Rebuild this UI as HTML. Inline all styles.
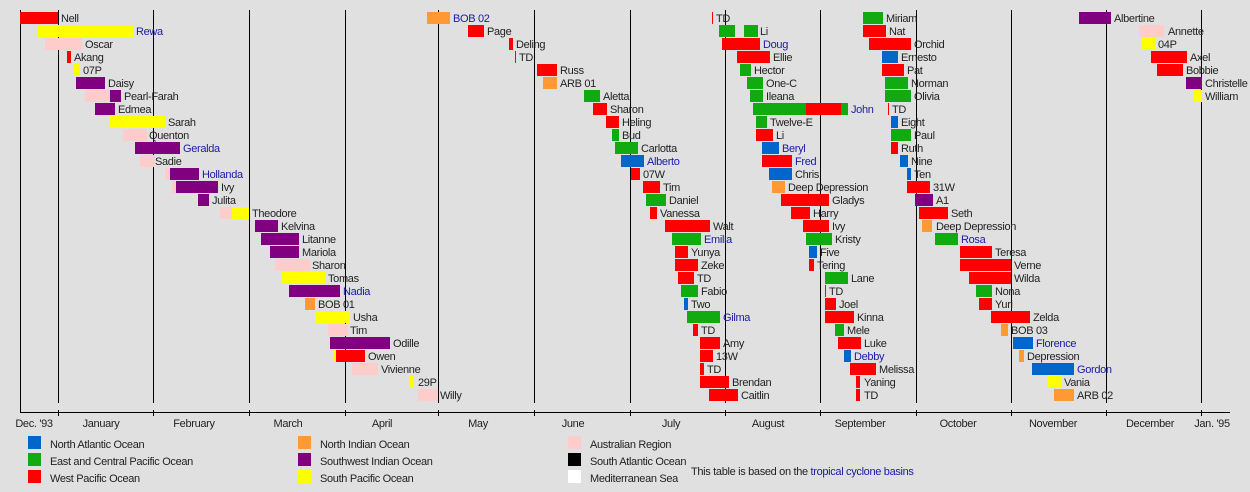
<!DOCTYPE html>
<html><head><meta charset="utf-8"><style>
body{margin:0;background:#e0e0e0}
svg{display:block;font-family:"Liberation Sans",sans-serif;font-size:11px;letter-spacing:-0.33px}
text{fill:#222}
.b{fill:#1a1aa6}
.R{fill:#ff0000}.G{fill:#11aa11}.B{fill:#0066cc}.O{fill:#ff9933}.P{fill:#800080}.Y{fill:#ffff00}.K{fill:#ffcccc}
</style></head><body>
<svg width="1250" height="492" viewBox="0 0 1250 492">
<rect width="1250" height="492" fill="#e0e0e0"/>
<g stroke="#000" stroke-width="1">
<line x1="20.5" y1="10" x2="20.5" y2="412"/>
<line x1="58.5" y1="10" x2="58.5" y2="403"/><line x1="153.5" y1="10" x2="153.5" y2="403"/><line x1="249.5" y1="10" x2="249.5" y2="403"/><line x1="345.5" y1="10" x2="345.5" y2="403"/><line x1="438.5" y1="10" x2="438.5" y2="403"/><line x1="534.5" y1="10" x2="534.5" y2="403"/><line x1="630.5" y1="10" x2="630.5" y2="403"/><line x1="725.5" y1="10" x2="725.5" y2="403"/><line x1="820.5" y1="10" x2="820.5" y2="403"/><line x1="916.5" y1="10" x2="916.5" y2="403"/><line x1="1011.5" y1="10" x2="1011.5" y2="403"/><line x1="1106.5" y1="10" x2="1106.5" y2="403"/><line x1="1201.5" y1="10" x2="1201.5" y2="403"/>
<line x1="20" y1="412.5" x2="1230" y2="412.5"/>
<line x1="58.5" y1="410" x2="58.5" y2="416"/><line x1="153.5" y1="410" x2="153.5" y2="416"/><line x1="249.5" y1="410" x2="249.5" y2="416"/><line x1="345.5" y1="410" x2="345.5" y2="416"/><line x1="438.5" y1="410" x2="438.5" y2="416"/><line x1="534.5" y1="410" x2="534.5" y2="416"/><line x1="630.5" y1="410" x2="630.5" y2="416"/><line x1="725.5" y1="410" x2="725.5" y2="416"/><line x1="820.5" y1="410" x2="820.5" y2="416"/><line x1="916.5" y1="410" x2="916.5" y2="416"/><line x1="1011.5" y1="410" x2="1011.5" y2="416"/><line x1="1106.5" y1="410" x2="1106.5" y2="416"/><line x1="1201.5" y1="410" x2="1201.5" y2="416"/>
</g>
<g text-anchor="middle">
<text x="34" y="427">Dec. '93</text><text x="101" y="427">January</text><text x="194" y="427">February</text><text x="288" y="427">March</text><text x="382" y="427">April</text><text x="478" y="427">May</text><text x="573" y="427">June</text><text x="671" y="427">July</text><text x="768" y="427">August</text><text x="860" y="427">September</text><text x="958" y="427">October</text><text x="1053" y="427">November</text><text x="1150" y="427">December</text><text x="1212" y="427">Jan. '95</text>
</g>

<rect class="R" x="20" y="12" width="38" height="12"/><text x="61" y="22">Nell</text>
<rect class="Y" x="38" y="25" width="95" height="12"/><text class="b" x="136" y="35">Rewa</text>
<rect class="K" x="45" y="38" width="37" height="12"/><text x="85" y="48">Oscar</text>
<rect class="R" x="67" y="51" width="4" height="12"/><text x="74" y="61">Akang</text>
<rect class="Y" x="73" y="64" width="7" height="12"/><text x="83" y="74">07P</text>
<rect class="P" x="76" y="77" width="29" height="12"/><text x="108" y="87">Daisy</text>
<rect class="K" x="85" y="90" width="25" height="12"/><rect class="P" x="110" y="90" width="11" height="12"/><text x="124" y="100">Pearl-Farah</text>
<rect class="P" x="95" y="103" width="20" height="12"/><text x="118" y="113">Edmea</text>
<rect class="Y" x="110" y="116" width="55" height="12"/><text x="168" y="126">Sarah</text>
<rect class="K" x="123" y="129" width="24" height="12"/><text x="149" y="139">Quenton</text>
<rect class="P" x="135" y="142" width="45" height="12"/><text class="b" x="183" y="152">Geralda</text>
<rect class="K" x="140" y="155" width="15" height="12"/><text x="155" y="165">Sadie</text>
<rect class="K" x="165" y="168" width="5" height="12"/><rect class="P" x="170" y="168" width="29" height="12"/><text class="b" x="202" y="178">Hollanda</text>
<rect class="K" x="172" y="181" width="4" height="12"/><rect class="P" x="176" y="181" width="42" height="12"/><text x="221" y="191">Ivy</text>
<rect class="P" x="198" y="194" width="11" height="12"/><text x="212" y="204">Julita</text>
<rect class="K" x="220" y="207" width="12" height="12"/><rect class="Y" x="232" y="207" width="17" height="12"/><text x="252" y="217">Theodore</text>
<rect class="P" x="255" y="220" width="23" height="12"/><text x="281" y="230">Kelvina</text>
<rect class="P" x="261" y="233" width="38" height="12"/><text x="302" y="243">Litanne</text>
<rect class="P" x="270" y="246" width="29" height="12"/><text x="302" y="256">Mariola</text>
<rect class="K" x="275" y="259" width="35" height="12"/><text x="312" y="269">Sharon</text>
<rect class="Y" x="282" y="272" width="43" height="12"/><text x="328" y="282">Tomas</text>
<rect class="P" x="289" y="285" width="51" height="12"/><text class="b" x="343" y="295">Nadia</text>
<rect class="O" x="305" y="298" width="10" height="12"/><text x="318" y="308">BOB 01</text>
<rect class="Y" x="316" y="311" width="34" height="12"/><text x="353" y="321">Usha</text>
<rect class="K" x="328" y="324" width="20" height="12"/><text x="350" y="334">Tim</text>
<rect class="P" x="330" y="337" width="60" height="12"/><text x="393" y="347">Odille</text>
<rect class="Y" x="333" y="350" width="3" height="12"/><rect class="R" x="336" y="350" width="29" height="12"/><text x="368" y="360">Owen</text>
<rect class="K" x="352" y="363" width="26" height="12"/><text x="381" y="373">Vivienne</text>
<rect class="Y" x="410" y="376" width="3" height="12"/><text x="418" y="386">29P</text>
<rect class="K" x="418" y="389" width="20" height="12"/><text x="440" y="399">Willy</text>

<rect class="O" x="427" y="12" width="23" height="12"/><text class="b" x="453" y="22">BOB 02</text>
<rect class="R" x="468" y="25" width="16" height="12"/><text x="487" y="35">Page</text>
<rect class="R" x="509" y="38" width="4" height="12"/><text x="516" y="48">Deling</text>
<rect class="R" x="515" y="51" width="1" height="12"/><text x="519" y="61">TD</text>
<rect class="R" x="537" y="64" width="20" height="12"/><text x="560" y="74">Russ</text>
<rect class="O" x="543" y="77" width="14" height="12"/><text x="560" y="87">ARB 01</text>
<rect class="G" x="584" y="90" width="16" height="12"/><text x="603" y="100">Aletta</text>
<rect class="R" x="593" y="103" width="14" height="12"/><text x="610" y="113">Sharon</text>
<rect class="R" x="606" y="116" width="13" height="12"/><text x="622" y="126">Heling</text>
<rect class="G" x="612" y="129" width="7" height="12"/><text x="622" y="139">Bud</text>
<rect class="G" x="615" y="142" width="23" height="12"/><text x="641" y="152">Carlotta</text>
<rect class="B" x="621" y="155" width="23" height="12"/><text class="b" x="647" y="165">Alberto</text>
<rect class="R" x="631" y="168" width="9" height="12"/><text x="643" y="178">07W</text>
<rect class="R" x="643" y="181" width="17" height="12"/><text x="663" y="191">Tim</text>
<rect class="G" x="646" y="194" width="20" height="12"/><text x="669" y="204">Daniel</text>
<rect class="R" x="650" y="207" width="7" height="12"/><text x="660" y="217">Vanessa</text>
<rect class="R" x="665" y="220" width="45" height="12"/><text x="713" y="230">Walt</text>
<rect class="G" x="672" y="233" width="29" height="12"/><text class="b" x="704" y="243">Emilia</text>
<rect class="R" x="675" y="246" width="13" height="12"/><text x="691" y="256">Yunya</text>
<rect class="R" x="675" y="259" width="23" height="12"/><text x="701" y="269">Zeke</text>
<rect class="R" x="678" y="272" width="16" height="12"/><text x="697" y="282">TD</text>
<rect class="G" x="681" y="285" width="17" height="12"/><text x="701" y="295">Fabio</text>
<rect class="B" x="684" y="298" width="4" height="12"/><text x="691" y="308">Two</text>
<rect class="G" x="687" y="311" width="33" height="12"/><text class="b" x="723" y="321">Gilma</text>
<rect class="R" x="693" y="324" width="5" height="12"/><text x="701" y="334">TD</text>
<rect class="R" x="700" y="337" width="20" height="12"/><text x="723" y="347">Amy</text>
<rect class="R" x="700" y="350" width="13" height="12"/><text x="716" y="360">13W</text>
<rect class="R" x="700" y="363" width="4" height="12"/><text x="707" y="373">TD</text>
<rect class="R" x="700" y="376" width="29" height="12"/><text x="732" y="386">Brendan</text>
<rect class="R" x="709" y="389" width="29" height="12"/><text x="741" y="399">Caitlin</text>

<rect class="R" x="712" y="12" width="1" height="12"/><text x="716" y="22">TD</text>
<rect class="G" x="719" y="25" width="16" height="12"/><rect class="G" x="744" y="25" width="14" height="12"/><text x="760" y="35">Li</text>
<rect class="R" x="722" y="38" width="38" height="12"/><text class="b" x="763" y="48">Doug</text>
<rect class="R" x="737" y="51" width="33" height="12"/><text x="773" y="61">Ellie</text>
<rect class="G" x="740" y="64" width="11" height="12"/><text x="754" y="74">Hector</text>
<rect class="G" x="747" y="77" width="16" height="12"/><text x="766" y="87">One-C</text>
<rect class="G" x="750" y="90" width="13" height="12"/><text x="766" y="100">Ileana</text>
<rect class="G" x="753" y="103" width="53" height="12"/><rect class="R" x="806" y="103" width="35" height="12"/><rect class="G" x="841" y="103" width="7" height="12"/><text class="b" x="851" y="113">John</text>
<rect class="G" x="756" y="116" width="11" height="12"/><text x="770" y="126">Twelve-E</text>
<rect class="R" x="756" y="129" width="17" height="12"/><text x="776" y="139">Li</text>
<rect class="B" x="762" y="142" width="17" height="12"/><text class="b" x="782" y="152">Beryl</text>
<rect class="R" x="762" y="155" width="30" height="12"/><text class="b" x="795" y="165">Fred</text>
<rect class="B" x="769" y="168" width="23" height="12"/><text x="795" y="178">Chris</text>
<rect class="O" x="772" y="181" width="13" height="12"/><text x="788" y="191">Deep Depression</text>
<rect class="R" x="781" y="194" width="48" height="12"/><text x="832" y="204">Gladys</text>
<rect class="R" x="791" y="207" width="19" height="12"/><text x="813" y="217">Harry</text>
<rect class="R" x="803" y="220" width="26" height="12"/><text x="832" y="230">Ivy</text>
<rect class="G" x="806" y="233" width="26" height="12"/><text x="835" y="243">Kristy</text>
<rect class="B" x="809" y="246" width="8" height="12"/><text x="820" y="256">Five</text>
<rect class="R" x="809" y="259" width="5" height="12"/><text x="817" y="269">Tering</text>
<rect class="G" x="825" y="272" width="23" height="12"/><text x="851" y="282">Lane</text>
<rect class="R" x="825" y="285" width="1" height="12"/><text x="829" y="295">TD</text>
<rect class="R" x="825" y="298" width="11" height="12"/><text x="839" y="308">Joel</text>
<rect class="R" x="825" y="311" width="29" height="12"/><text x="857" y="321">Kinna</text>
<rect class="G" x="835" y="324" width="9" height="12"/><text x="847" y="334">Mele</text>
<rect class="R" x="838" y="337" width="23" height="12"/><text x="864" y="347">Luke</text>
<rect class="B" x="844" y="350" width="7" height="12"/><text class="b" x="854" y="360">Debby</text>
<rect class="R" x="850" y="363" width="26" height="12"/><text x="879" y="373">Melissa</text>
<rect class="R" x="856" y="376" width="4" height="12"/><text x="864" y="386">Yaning</text>
<rect class="R" x="856" y="389" width="4" height="12"/><text x="864" y="399">TD</text>

<rect class="G" x="863" y="12" width="20" height="12"/><text x="886" y="22">Miriam</text>
<rect class="R" x="863" y="25" width="23" height="12"/><text x="889" y="35">Nat</text>
<rect class="R" x="869" y="38" width="42" height="12"/><text x="914" y="48">Orchid</text>
<rect class="B" x="882" y="51" width="16" height="12"/><text x="901" y="61">Ernesto</text>
<rect class="R" x="882" y="64" width="22" height="12"/><text x="907" y="74">Pat</text>
<rect class="G" x="885" y="77" width="23" height="12"/><text x="911" y="87">Norman</text>
<rect class="G" x="885" y="90" width="26" height="12"/><text x="914" y="100">Olivia</text>
<rect class="R" x="888" y="103" width="1" height="12"/><text x="892" y="113">TD</text>
<rect class="B" x="891" y="116" width="7" height="12"/><text x="901" y="126">Eight</text>
<rect class="G" x="891" y="129" width="20" height="12"/><text x="914" y="139">Paul</text>
<rect class="R" x="891" y="142" width="7" height="12"/><text x="901" y="152">Ruth</text>
<rect class="B" x="900" y="155" width="8" height="12"/><text x="911" y="165">Nine</text>
<rect class="B" x="907" y="168" width="4" height="12"/><text x="914" y="178">Ten</text>
<rect class="R" x="907" y="181" width="23" height="12"/><text x="933" y="191">31W</text>
<rect class="P" x="915" y="194" width="18" height="12"/><text x="936" y="204">A1</text>
<rect class="R" x="919" y="207" width="29" height="12"/><text x="951" y="217">Seth</text>
<rect class="O" x="922" y="220" width="10" height="12"/><text x="936" y="230">Deep Depression</text>
<rect class="G" x="935" y="233" width="23" height="12"/><text class="b" x="961" y="243">Rosa</text>
<rect class="R" x="960" y="246" width="32" height="12"/><text x="995" y="256">Teresa</text>
<rect class="R" x="960" y="259" width="51" height="12"/><text x="1014" y="269">Verne</text>
<rect class="R" x="969" y="272" width="42" height="12"/><text x="1014" y="282">Wilda</text>
<rect class="G" x="976" y="285" width="16" height="12"/><text x="995" y="295">Nona</text>
<rect class="R" x="979" y="298" width="13" height="12"/><text x="995" y="308">Yuri</text>
<rect class="R" x="991" y="311" width="39" height="12"/><text x="1033" y="321">Zelda</text>
<rect class="O" x="1001" y="324" width="7" height="12"/><text x="1011" y="334">BOB 03</text>
<rect class="B" x="1013" y="337" width="20" height="12"/><text class="b" x="1036" y="347">Florence</text>
<rect class="O" x="1019" y="350" width="5" height="12"/><text x="1027" y="360">Depression</text>
<rect class="B" x="1032" y="363" width="42" height="12"/><text class="b" x="1077" y="373">Gordon</text>
<rect class="Y" x="1048" y="376" width="13" height="12"/><text x="1064" y="386">Vania</text>
<rect class="O" x="1054" y="389" width="20" height="12"/><text x="1077" y="399">ARB 02</text>

<rect class="P" x="1079" y="12" width="32" height="12"/><text x="1114" y="22">Albertine</text>
<rect class="K" x="1139" y="25" width="25" height="12"/><text x="1168" y="35">Annette</text>
<rect class="Y" x="1142" y="38" width="13" height="12"/><text x="1158" y="48">04P</text>
<rect class="R" x="1151" y="51" width="36" height="12"/><text x="1190" y="61">Axel</text>
<rect class="R" x="1157" y="64" width="26" height="12"/><text x="1186" y="74">Bobbie</text>
<rect class="P" x="1186" y="77" width="16" height="12"/><text x="1205" y="87">Christelle</text>
<rect class="Y" x="1194" y="90" width="8" height="12"/><text x="1205" y="100">William</text>

<rect class="B" x="28" y="436" width="13" height="13"/><text x="50" y="448">North Atlantic Ocean</text>
<rect class="G" x="28" y="453" width="13" height="13"/><text x="50" y="465">East and Central Pacific Ocean</text>
<rect class="R" x="28" y="470" width="13" height="13"/><text x="50" y="482">West Pacific Ocean</text>
<rect class="O" x="298" y="436" width="13" height="13"/><text x="320" y="448">North Indian Ocean</text>
<rect class="P" x="298" y="453" width="13" height="13"/><text x="320" y="465">Southwest Indian Ocean</text>
<rect class="Y" x="298" y="470" width="13" height="13"/><text x="320" y="482">South Pacific Ocean</text>
<rect class="K" x="568" y="436" width="13" height="13"/><text x="590" y="448">Australian Region</text>
<rect fill="#000" x="568" y="453" width="13" height="13"/><text x="590" y="465">South Atlantic Ocean</text>
<rect fill="#fff" x="568" y="470" width="13" height="13"/><text x="590" y="482">Mediterranean Sea</text>
<text x="691" y="475">This table is based on the <tspan class="b">tropical cyclone basins</tspan></text>
</svg>
</body></html>
